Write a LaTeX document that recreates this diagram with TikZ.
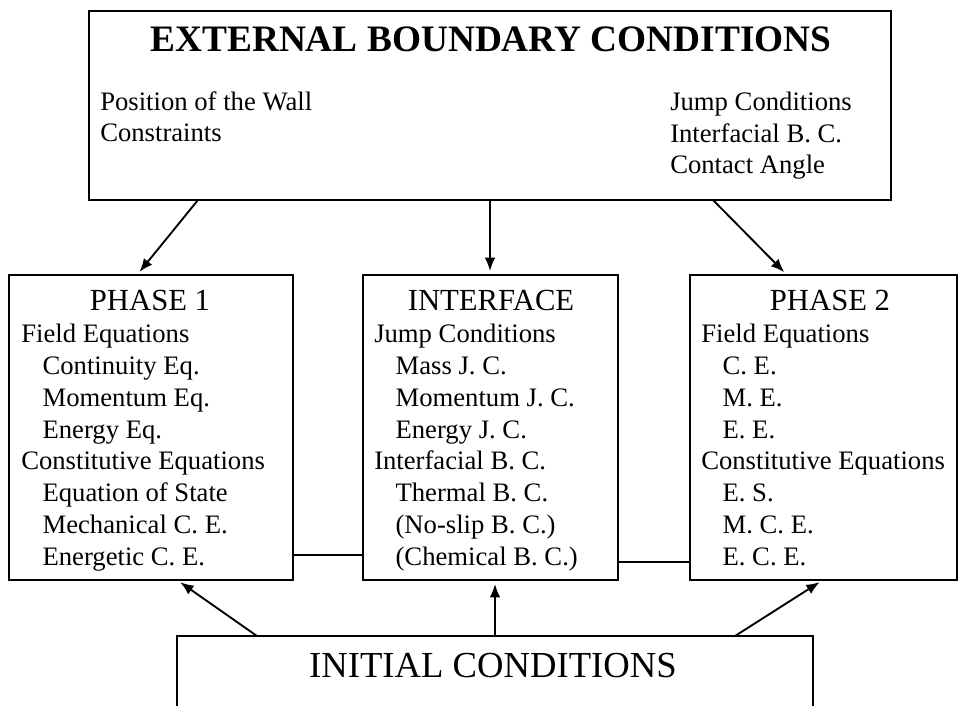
\documentclass[tikz,border=0pt]{standalone}
\usepackage{fontspec}
\setmainfont{Liberation Serif}
\usepackage{tikz}
\usetikzlibrary{arrows.meta}

\newcommand{\ind}{\hspace*{16pt}}

\begin{document}
\begin{tikzpicture}[x=0.75pt,y=-0.75pt,
    box/.style={draw,line width=1.8pt,inner sep=0pt,outer sep=0pt},
    head/.style={anchor=base,inner sep=0pt,font=\fontsize{23}{27}\selectfont},
    body/.style={anchor=base west,align=left,inner sep=0pt,font=\fontsize{20}{23.8}\selectfont},
    arr/.style={line width=1.4pt,shorten >=3pt,-{Latex[length=10pt,width=8pt]}}]
    \clip (0,0) rectangle (960,706);

    % Boxes
    \node[box,minimum width=0.75*802pt,minimum height=0.75*189pt] (ext) at (490,105.5) {};
    \node[box,minimum width=0.75*284pt,minimum height=0.75*305pt] (p1) at (151,427.5) {};
    \node[box,minimum width=0.75*255pt,minimum height=0.75*305pt] (iface) at (490.5,427.5) {};
    \node[box,minimum width=0.75*267pt,minimum height=0.75*305pt] (p2) at (823.5,427.5) {};
    \node[box,minimum width=0.75*636pt,minimum height=0.75*104pt] (init) at (495,688) {};

    % External boundary conditions (lists sit on their last baseline)
    \node[anchor=base,inner sep=0pt,font=\fontsize{28}{32}\selectfont\bfseries] (exttitle) at (491,52) {EXTERNAL BOUNDARY CONDITIONS};
    \node[body] (extleft) at (100,142) {Position of the Wall\\Constraints};
    \node[body] (extright) at (670,174) {Jump Conditions\\Interfacial B. C.\\Contact Angle};

    % Phase 1
    \node[head] (p1head) at (150,310) {PHASE 1};
    \node[body] (p1text) at (21,565) {Field Equations\\
        \ind Continuity Eq.\\
        \ind Momentum Eq.\\
        \ind Energy Eq.\\
        Constitutive Equations\\
        \ind Equation of State\\
        \ind Mechanical C. E.\\
        \ind Energetic C. E.};

    % Interface
    \node[head] (ifacehead) at (491,310) {INTERFACE};
    \node[body] (ifacetext) at (374,565) {Jump Conditions\\
        \ind Mass J. C.\\
        \ind Momentum J. C.\\
        \ind Energy J. C.\\
        Interfacial B. C.\\
        \ind Thermal B. C.\\
        \ind (No-slip B. C.)\\
        \ind (Chemical B. C.)};

    % Phase 2
    \node[head] (p2head) at (830,310) {PHASE 2};
    \node[body] (p2text) at (701,565) {Field Equations\\
        \ind C. E.\\
        \ind M. E.\\
        \ind E. E.\\
        Constitutive Equations\\
        \ind E. S.\\
        \ind M. C. E.\\
        \ind E. C. E.};

    % Initial conditions
    \node[anchor=base,inner sep=0pt,font=\fontsize{27.5}{32}\selectfont] (inittext) at (493,677) {INITIAL CONDITIONS};

    % Links
    \draw[line width=1.4pt] (p1.east |- 0,555) -- (iface.west |- 0,555);
    \draw[line width=1.4pt] (iface.east |- 0,562) -- (p2.west |- 0,562);

    % Arrows
    \draw[arr] (ext.south -| 198,0) -- (p1.north -| 137,0);
    \draw[arr] (ext.south) -- (ext.south |- iface.north);
    \draw[arr] (ext.south -| 713,0) -- (p2.north -| 787,0);
    \draw[arr] (init.north -| 257,0) -- (p1.south -| 177,0);
    \draw[arr] (init.north -| 495,0) -- (iface.south -| 495,0);
    \draw[arr] (init.north -| 735,0) -- (p2.south -| 823,0);
\end{tikzpicture}
\end{document}
